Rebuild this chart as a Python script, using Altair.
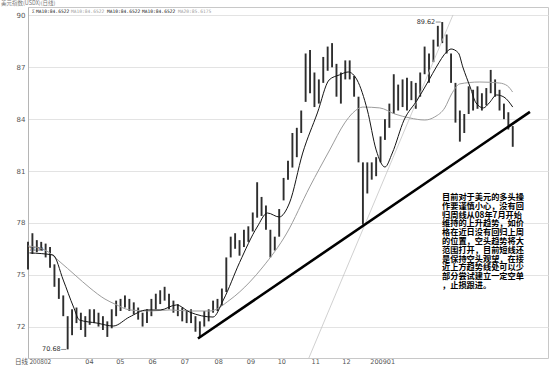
import altair as alt
import pandas as pd

# ---- candle highs / lows (every 3rd trading day, from Feb 2008) ----
hi = [76.9, 77.4, 77.0, 76.9, 76.8, 76.6, 75.6, 74.8, 73.8, 72.6,
      73.0, 73.1, 72.8, 72.6, 73.0, 73.0, 72.8, 72.6, 72.3, 73.0,
      73.5, 73.6, 73.8, 73.6, 73.4, 73.1, 72.8, 73.0, 73.6, 73.9,
      74.1, 74.3, 73.9, 73.5, 73.3, 73.1, 72.9, 73.0, 72.6, 72.3,
      72.9, 73.0, 73.5, 73.6, 74.2, 76.0, 77.2, 77.4, 77.0, 77.6,
      77.8, 78.6, 80.35, 79.5, 79.0, 77.6, 77.2, 78.8, 80.6, 81.6,
      83.2, 83.5, 84.5, 87.8, 88.0, 86.7, 86.3, 87.6, 88.2, 88.4,
      87.2, 86.7, 87.4, 87.4, 86.5, 85.3, 81.5, 81.5, 81.5, 81.8,
      83.0, 84.0, 84.9, 86.6, 86.0, 86.3, 86.4, 86.2, 86.1, 86.7,
      88.2, 87.8, 88.6, 89.4, 89.62, 88.9, 87.8, 86.1, 84.5, 84.3,
      85.9, 85.7, 85.9, 85.5, 85.8, 86.85, 86.3, 85.7, 84.9, 84.4,
      83.6]
lo = [75.3, 76.2, 76.3, 76.4, 76.0, 75.4, 74.3, 73.6, 72.6, 70.68,
      71.5, 72.2, 71.8, 71.4, 72.1, 72.2, 72.0, 71.8, 71.4, 71.9,
      72.6, 72.9, 73.1, 72.9, 72.7, 72.4, 72.0, 72.2, 72.6, 73.0,
      73.3, 73.5, 73.0, 72.8, 72.6, 72.3, 72.2, 72.2, 71.7, 71.4,
      72.0, 72.3, 72.8, 72.9, 73.2, 74.0, 76.0, 76.5, 76.1, 76.6,
      76.9, 77.5, 78.3, 78.4, 77.6, 76.0, 76.4, 77.2, 79.3, 80.5,
      81.2, 81.8, 83.2, 85.0, 85.5, 84.7, 84.9, 86.1, 86.8, 87.0,
      85.3, 84.9, 86.3, 86.3, 85.3, 81.5, 77.9, 79.7, 80.5, 80.7,
      81.5, 82.8, 83.5, 84.3, 84.5, 84.7, 84.5, 85.1, 84.6, 85.3,
      86.6, 86.1, 87.3, 88.2, 88.4, 87.8, 86.1, 83.8, 82.7, 83.2,
      84.3, 84.5, 84.6, 84.5, 84.8, 85.5, 85.3, 84.5, 84.0, 83.4,
      82.4]
day = [3 * i for i in range(len(hi))]

# ---- short moving average (black) ----
ma_s_day = [1, 17, 24, 31, 35, 47, 58, 69, 81, 90, 101, 110, 126, 133, 144,
            156, 163, 171, 178, 187, 197, 205, 212, 218, 224, 231, 237, 243,
            248, 256, 265, 273, 278, 285, 288, 293, 296, 301, 305, 310, 314,
            319, 324, 330]
ma_s_val = [76.26, 76.14, 74.69, 73.13, 72.38, 72.2, 72.03, 72.55, 72.96,
            72.96, 73.25, 72.84, 72.55, 73.54, 75.7, 77.76, 78.57, 78.34,
            79.15, 82.04, 84.36, 86.27, 86.56, 86.73, 86.27, 84.53, 82.22,
            81.23, 82.04, 83.95, 85.11, 86.27, 87.02, 87.89, 88.06, 87.83,
            87.02, 85.86, 84.94, 84.65, 84.94, 85.4, 85.28, 84.7]

# ---- long moving average (grey) ----
ma_l_day = [0, 11.6, 21.8, 32, 42.2, 52.4, 59.2, 69.4, 83, 96.6, 110.2,
            123.8, 137.4, 151, 159.9, 176.2, 191.8, 205.4, 215.6, 221.1,
            227.9, 239.5, 249.7, 259.9, 270.1, 276.9, 283.7, 288.4, 293.9,
            307.5, 321.1, 326.5, 329.9]
ma_l_val = [76.66, 76.43, 75.74, 74.98, 74.23, 73.59, 73.30, 72.96, 72.90,
            72.96, 72.90, 72.90, 73.54, 74.58, 75.45, 77.41, 80.08, 82.22,
            83.78, 84.36, 84.70, 84.65, 84.30, 84.07, 83.95, 84.13, 84.65,
            85.46, 86.04, 86.15, 86.09, 85.92, 85.57]

trend_day = [115.7, 341.7]
trend_val = [71.31, 84.42]
steep_day = [191.2, 289.3]
steep_val = [70.18, 90.03]

y_ticks = [72, 75, 78, 81, 84, 87, 90]
month_labels = ["04", "05", "06", "07", "08", "09", "10", "11", "12", "200901"]
month_days = [39, 60, 82, 104, 127, 149, 170, 193, 214, 233]

legend_text = ["Σ", "MA10:84.6522", "MA10:84.6522", "MA10:84.6522",
               "MA10:84.6522", "MA20:85.6175"]
legend_px = [4, 8, 43, 79, 114, 150]
legend_col = ["#333", "#222", "#a0a0a0", "#222", "#222", "#a0a0a0"]

note_lines = ["目前对于美元的多头操", "作要谨慎小心，没有回", "归周线从08年7月开始",
              "维持的上升趋势，如价", "格在近日没有回归上周", "的位置，空头趋势将大",
              "范围打开，目前短线还", "是保持空头观望，在接", "近上方趋势线处可以少",
              "部分尝试建立一定空单", "，止损跟进。"]

# ---- build ----
xs = alt.Scale(domain=[0, 354], nice=False, zero=False)
ys = alt.Scale(domain=[70.18, 90.49], nice=False, zero=False)

cdf = pd.DataFrame({"day": day, "hi": hi, "lo": lo})
sdf = pd.DataFrame({"day": ma_s_day, "v": ma_s_val})
ldf = pd.DataFrame({"day": ma_l_day, "v": ma_l_val})
tdf = pd.DataFrame({"day": trend_day, "v": trend_val})
stdf = pd.DataFrame({"day": steep_day, "v": steep_val})

X = alt.X("day:Q", scale=xs, axis=None)

candles = alt.Chart(cdf).mark_rule(strokeWidth=1.9, color="#2e2e2e").encode(
    x=X,
    y=alt.Y("lo:Q", scale=ys, title=None,
            axis=alt.Axis(values=y_ticks, grid=True, gridColor="#e3e3e3",
                          domainColor="#b5b5b5", ticks=False, labelFontSize=7,
                          labelColor="#555", labelPadding=3, format="d",
                          labelFont="DejaVu Sans")),
    y2="hi:Q",
)

steep = alt.Chart(stdf).mark_line(color="#c4c4c4", strokeWidth=0.8).encode(
    x=X, y=alt.Y("v:Q", scale=ys))
ma_l = alt.Chart(ldf).mark_line(color="#9c9c9c", strokeWidth=1,
                                interpolate="monotone").encode(
    x=X, y=alt.Y("v:Q", scale=ys))
ma_s = alt.Chart(sdf).mark_line(color="#151515", strokeWidth=1,
                                interpolate="monotone").encode(
    x=X, y=alt.Y("v:Q", scale=ys))
trend = alt.Chart(tdf).mark_line(color="black", strokeWidth=2.6).encode(
    x=X, y=alt.Y("v:Q", scale=ys))

# extreme labels
ext = pd.DataFrame({"day": [27, 282], "v": [70.68, 89.62],
                    "t": ["70.68", "89.62"]})
ext_text = alt.Chart(ext).mark_text(align="right", baseline="middle", dx=-7,
                                    fontSize=6.5, color="#333",
                                    font="DejaVu Sans").encode(
    x=X, y=alt.Y("v:Q", scale=ys), text="t:N")
ext_tick = alt.Chart(ext).mark_tick(orient="horizontal", size=5, thickness=0.8,
                                    color="#333", xOffset=-4).encode(
    x=X, y=alt.Y("v:Q", scale=ys))

# month labels
mdf = pd.DataFrame({"day": month_days, "t": month_labels})
months = alt.Chart(mdf).mark_text(align="left", baseline="middle", fontSize=6.5,
                                  color="#555", font="DejaVu Sans").encode(
    x=X, y=alt.value(355), text="t:N")
first_lab = alt.Chart(pd.DataFrame({"t": ["日线 200802"]})).mark_text(
    align="left", baseline="middle", fontSize=6.5, color="#555",
    font="Noto Sans CJK SC").encode(x=alt.value(-13), y=alt.value(355), text="t:N")

# header + MA legend
head = alt.Chart(pd.DataFrame({"t": ["美元指数(USDX)(日线)"]})).mark_text(
    align="left", baseline="top", fontSize=5.5, color="#777",
    font="Noto Sans CJK SC").encode(x=alt.value(-27), y=alt.value(-6), text="t:N")
ldf2 = pd.DataFrame({"px": legend_px, "t": legend_text, "c": legend_col})
legend = alt.Chart(ldf2).mark_text(align="left", baseline="middle", fontSize=4.6,
                                   font="DejaVu Sans Mono").encode(
    x=alt.X("px:Q", scale=None), y=alt.value(5), text="t:N",
    color=alt.Color("c:N", scale=None))

# price tag at start
tag = alt.Chart(pd.DataFrame({"t": ["76.34"]})).mark_text(
    align="left", baseline="middle", fontSize=5, color="#333",
    font="DejaVu Sans").encode(x=alt.value(1), y=alt.value(241.5), text="t:N")

note = alt.Chart(pd.DataFrame({"t": ["\n".join(note_lines)]})).mark_text(
    align="left", baseline="top", fontSize=8.2, fontWeight="bold",
    lineHeight=8.8, lineBreak="\n", color="black",
    font="Noto Sans CJK SC").encode(x=alt.value(414), y=alt.value(187), text="t:N")

chart = alt.layer(candles, steep, ma_l, ma_s, trend, ext_text, ext_tick, months,
                  first_lab, head, legend, tag, note).properties(
    width=520, height=351,
    autosize=alt.AutoSizeParams(type="none"),
    padding={"left": 28, "top": 7, "right": 6, "bottom": 9},
    background="white",
).configure_view(stroke="#c8c8c8", strokeWidth=1)

chart.save("out.html", embed_options={"renderer": "svg", "actions": False})
